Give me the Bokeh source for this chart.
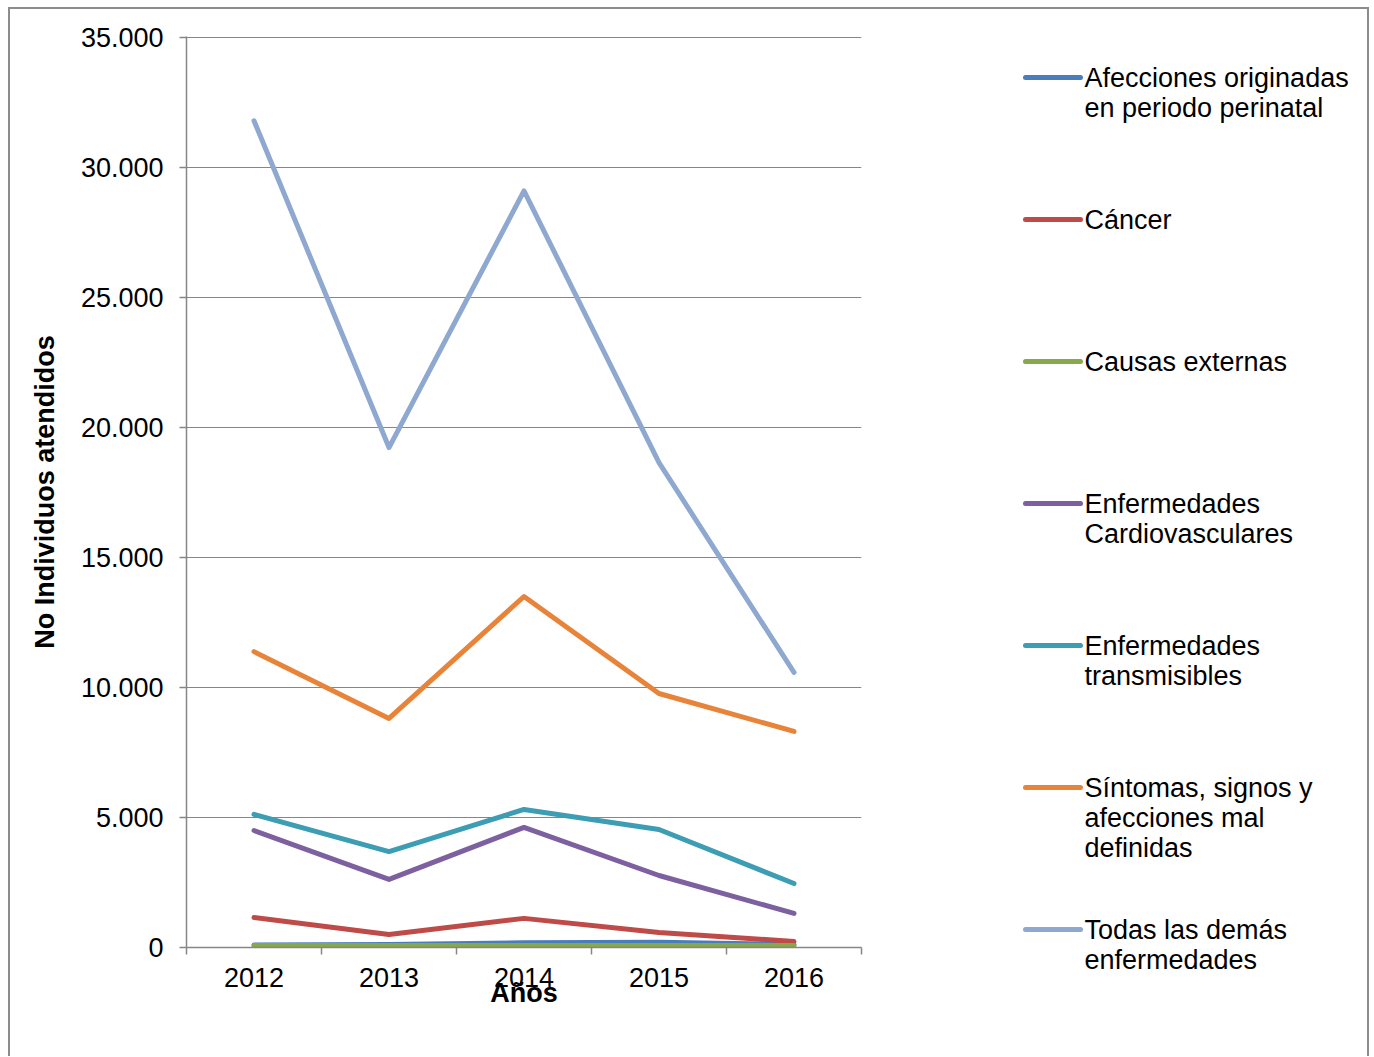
from bokeh.plotting import figure
from bokeh.layouts import row, column
from bokeh.models import FixedTicker, Range1d, ColumnDataSource
from bokeh.core.properties import value
from bokeh.embed import file_html
from bokeh.resources import INLINE

years = [2012, 2013, 2014, 2015, 2016]
series_names = [
    "Afecciones originadas\nen periodo perinatal",
    "Cáncer",
    "Causas externas",
    "Enfermedades\nCardiovasculares",
    "Enfermedades\ntransmisibles",
    "Síntomas, signos y\nafecciones mal\ndefinidas",
    "Todas las demás\nenfermedades",
]
afecciones = [100, 120, 180, 200, 110]
cancer = [1150, 500, 1120, 580, 230]
causas_externas = [80, 80, 80, 80, 80]
cardiovasculares = [4500, 2620, 4620, 2770, 1310]
transmisibles = [5120, 3690, 5310, 4540, 2460]
sintomas = [11380, 8810, 13500, 9770, 8310]
demas = [31800, 19230, 29100, 18650, 10580]
series_values = [afecciones, cancer, causas_externas, cardiovasculares,
                 transmisibles, sintomas, demas]
colors = ["#4A7EBB", "#BE4B48", "#87A94A", "#7D60A0", "#3C9DB5", "#E8843A", "#8FA8D0"]

y_ticks = [0, 5000, 10000, 15000, 20000, 25000, 30000, 35000]
y_labels = ["0", "5.000", "10.000", "15.000", "20.000", "25.000", "30.000", "35.000"]

FONT = "Liberation Sans"
GRAY = "#868686"
FS = "27px"
H = 1047
BT, BB = 27, 109

p = figure(width=990, height=H, output_backend="svg", toolbar_location=None,
           x_range=Range1d(2011.5, 2016.5), y_range=Range1d(0, 35040),
           min_border_left=176, min_border_right=139, min_border_top=BT,
           min_border_bottom=BB)
p.outline_line_color = None
p.xgrid.visible = False
p.ygrid.grid_line_color = GRAY
p.ygrid.grid_line_width = 1.2
p.ygrid.ticker = FixedTicker(ticks=y_ticks)

p.xaxis.ticker = FixedTicker(ticks=years,
                             minor_ticks=[y - 0.5 for y in years] + [years[-1] + 0.5])
p.xaxis.major_tick_out = 0
p.xaxis.major_tick_in = 0
p.xaxis.minor_tick_out = 7
p.xaxis.minor_tick_in = 0
p.xaxis.minor_tick_line_color = GRAY
p.xaxis.minor_tick_line_width = 1.5
p.xaxis.major_label_standoff = 13
p.xaxis.axis_label = "Años"
p.xaxis.axis_label_standoff = -12

p.yaxis.ticker = FixedTicker(ticks=y_ticks)
p.yaxis.major_label_overrides = {t: l for t, l in zip(y_ticks, y_labels)}
p.yaxis.major_tick_out = 7
p.yaxis.major_tick_in = 0
p.yaxis.minor_tick_line_color = None
p.yaxis.major_tick_line_color = GRAY
p.yaxis.major_tick_line_width = 1.5
p.yaxis.major_label_standoff = 16
p.yaxis.axis_label = "No Individuos atendidos"
p.yaxis.axis_label_standoff = 18

for ax in (p.xaxis, p.yaxis):
    ax.axis_line_color = GRAY
    ax.axis_line_width = 1.5
    ax.major_label_text_font = FONT
    ax.major_label_text_font_size = FS
    ax.major_label_text_color = "#000000"
    ax.axis_label_text_font = FONT
    ax.axis_label_text_font_size = FS
    ax.axis_label_text_font_style = "bold"
    ax.axis_label_text_color = "#000000"

for vals, c in zip(series_values, colors):
    p.line(years, vals, line_color=c, line_width=5, line_cap="round", line_join="round")

# Legend panel (y in page-pixel coordinates)
LW = 367
leg = figure(width=LW, height=H, output_backend="svg", toolbar_location=None,
             x_range=Range1d(0, LW), y_range=Range1d(9 + H, 9),
             x_axis_location=None, y_axis_location=None,
             min_border_left=0, min_border_right=0,
             min_border_top=0, min_border_bottom=0)
leg.grid.visible = False
leg.outline_line_color = None

step = 142
first = 77
ys = [first + i * step for i in range(len(series_names))]
src = ColumnDataSource(dict(x0=[25] * len(ys), x1=[80] * len(ys), y=ys,
                            ty=[v - 15 for v in ys], tx=[84] * len(ys),
                            label=series_names, color=colors))
leg.segment(x0="x0", y0="y", x1="x1", y1="y", source=src, line_color="color",
            line_width=5, line_cap="round")
leg.text(x="tx", y="ty", text="label", source=src, text_font=value(FONT),
         text_font_size=FS, text_baseline="top", text_align="left",
         text_color="#000000", text_line_height=1.0)

layout = row(p, column(leg), styles={"margin": "7px 0 0 8px",
                                     "border-top": "2px solid #8c8c8c",
                                     "border-left": "2px solid #8c8c8c",
                                     "border-right": "2px solid #8c8c8c"})

open("out.html", "w").write(file_html(layout, INLINE))
